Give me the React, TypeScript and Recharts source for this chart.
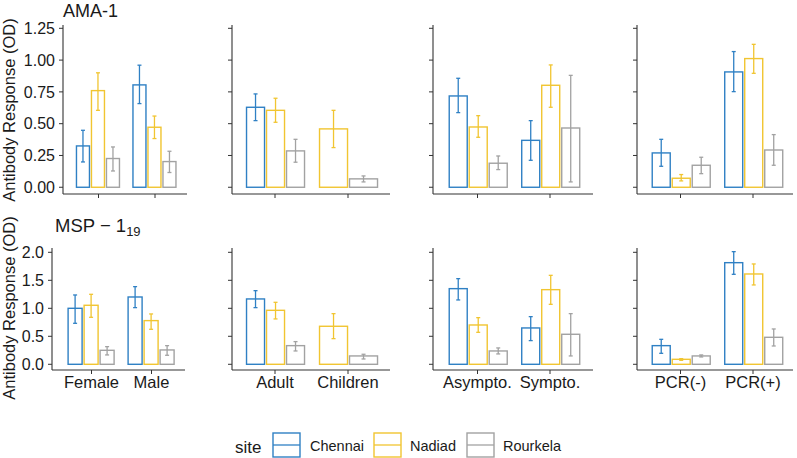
import { BarChart, Bar, XAxis, YAxis } from 'recharts'

const categories = ['Female', 'Male', 'Adult', 'Children', 'Asympto.', 'Sympto.', 'PCR(-)', 'PCR(+)']
const sites = ['Chennai', 'Nadiad', 'Rourkela']
const siteColors = ['#2F80C4', '#F1C531', '#A2A2A2']

// AMA-1 (top row): mean OD and error bar ends, per category
const amaChennai = [0.325, 0.805, 0.629, null, 0.718, 0.369, 0.27, 0.907]
const amaChennaiLo = [0.199, 0.658, 0.524, null, 0.587, 0.212, 0.165, 0.752]
const amaChennaiHi = [0.448, 0.96, 0.734, null, 0.857, 0.524, 0.377, 1.067]
const amaNadiad = [0.76, 0.472, 0.605, 0.459, 0.474, 0.802, 0.071, 1.012]
const amaNadiadLo = [0.605, 0.383, 0.511, 0.312, 0.393, 0.629, 0.05, 0.896]
const amaNadiadHi = [0.9, 0.56, 0.7, 0.605, 0.563, 0.962, 0.1, 1.124]
const amaRourkela = [0.226, 0.202, 0.286, 0.066, 0.189, 0.466, 0.173, 0.293]
const amaRourkelaLo = [0.128, 0.116, 0.197, 0.042, 0.139, 0.042, 0.107, 0.173]
const amaRourkelaHi = [0.317, 0.283, 0.377, 0.089, 0.246, 0.88, 0.236, 0.414]

// MSP-1 19 (bottom row)
const mspChennai = [1.0, 1.202, 1.167, null, 1.351, 0.649, 0.333, 1.815]
const mspChennaiLo = [0.732, 1.012, 1.012, null, 1.149, 0.423, 0.196, 1.607]
const mspChennaiHi = [1.238, 1.387, 1.315, null, 1.53, 0.851, 0.446, 2.012]
const mspNadiad = [1.054, 0.78, 0.964, 0.679, 0.702, 1.333, 0.089, 1.613]
const mspNadiadLo = [0.839, 0.625, 0.81, 0.458, 0.571, 1.071, 0.071, 1.417]
const mspNadiadHi = [1.25, 0.899, 1.107, 0.905, 0.833, 1.589, 0.101, 1.792]
const mspRourkela = [0.25, 0.256, 0.333, 0.149, 0.238, 0.536, 0.149, 0.482]
const mspRourkelaLo = [0.167, 0.161, 0.238, 0.095, 0.185, 0.149, 0.131, 0.327]
const mspRourkelaHi = [0.315, 0.333, 0.405, 0.179, 0.292, 0.905, 0.167, 0.631]

const amaTicks = [0, 0.25, 0.5, 0.75, 1, 1.25]
const mspTicks = [0, 0.5, 1, 1.5, 2]

const FONT = '"Liberation Sans", Arial, sans-serif'
const AXIS = '#333333'
const TEXT = '#1a1a1a'
const BAR_GAP = 2

type Row = Record<string, any>

function buildRows(means: (number | null)[][], lows: (number | null)[][], highs: (number | null)[][]) {
  return categories.map((cat, i) => {
    const row: Row = { cat }
    sites.forEach((_, s) => {
      row[`v${s}`] = means[s][i]
      row[`lo${s}`] = lows[s][i]
      row[`hi${s}`] = highs[s][i]
    })
    return row
  })
}

const amaRows = buildRows(
  [amaChennai, amaNadiad, amaRourkela],
  [amaChennaiLo, amaNadiadLo, amaRourkelaLo],
  [amaChennaiHi, amaNadiadHi, amaRourkelaHi],
)
const mspRows = buildRows(
  [mspChennai, mspNadiad, mspRourkela],
  [mspChennaiLo, mspNadiadLo, mspRourkelaLo],
  [mspChennaiHi, mspNadiadHi, mspRourkelaHi],
)

// bar outline + error bar; when Chennai is missing the other two bars widen (ggplot dodge)
function makeShape(site: number, color: string) {
  return (p: any) => {
    const { x, y, width, height, payload } = p
    const v = payload[`v${site}`]
    if (v == null || !height) return <g />
    let bx = x
    let bw = width
    if (payload.v0 == null) {
      const x0 = site === 1 ? x - width - BAR_GAP : x - 2 * width - 2 * BAR_GAP
      bw = (3 * width + BAR_GAP) / 2
      bx = site === 1 ? x0 : x0 + bw + BAR_GAP
    }
    const base = y + height
    const k = height / v
    const yLo = base - payload[`lo${site}`] * k
    const yHi = base - payload[`hi${site}`] * k
    const cx = bx + bw / 2
    return (
      <g>
        <rect x={bx} y={y} width={bw} height={height} fill="none" stroke={color} strokeWidth={1.4} />
        <line x1={cx} x2={cx} y1={yHi} y2={yLo} stroke={color} strokeWidth={1.3} />
        <line x1={cx - 2} x2={cx + 2} y1={yHi} y2={yHi} stroke={color} strokeWidth={1.3} />
        <line x1={cx - 2} x2={cx + 2} y1={yLo} y2={yLo} stroke={color} strokeWidth={1.3} />
      </g>
    )
  }
}

type Col = { L: number; R: number; c: [number, number] }

const topCols: Col[] = [
  { L: 63, R: 187, c: [98.5, 155] },
  { L: 232, R: 390, c: [275, 348] },
  { L: 433, R: 593, c: [477.5, 550] },
  { L: 637, R: 793, c: [680.5, 753] },
]
const bottomCols: Col[] = [
  { L: 52, R: 185, c: [91.5, 151.5] },
  { L: 232, R: 390, c: [275, 348] },
  { L: 433, R: 593, c: [477.5, 550] },
  { L: 637, R: 793, c: [680.5, 753] },
]

type RowCfg = {
  rows: Row[]
  cols: Col[]
  plotTop: number
  plotH: number
  domain: [number, number]
  ticks: number[]
  digits: number
  labels: boolean
}

const TOP_PAD = 12

function Panel({ cfg, idx }: { cfg: RowCfg; idx: number }) {
  const col = cfg.cols[idx]
  const data = cfg.rows.slice(idx * 2, idx * 2 + 2)
  const yW = idx === 0 ? col.L : 8
  const band = col.c[1] - col.c[0]
  const padLeft = col.c[0] - band / 2 - col.L
  const padRight = col.R - col.c[1] - band / 2
  const xH = cfg.labels ? 30 : 10
  const w = yW + col.R - col.L
  const h = TOP_PAD + cfg.plotH + xH
  return (
    <div style={{ position: 'absolute', left: col.L - yW, top: cfg.plotTop - TOP_PAD }}>
      <BarChart
        width={w}
        height={h}
        data={data}
        margin={{ top: TOP_PAD, right: 0, bottom: 0, left: 0 }}
        barGap={BAR_GAP}
        barCategoryGap="11%"
      >
        <XAxis
          dataKey="cat"
          height={xH}
          padding={{ left: padLeft, right: padRight }}
          tickSize={4}
          tickMargin={2}
          axisLine={{ stroke: AXIS, strokeWidth: 1.1 }}
          tickLine={{ stroke: AXIS }}
          tick={{ fill: TEXT, fontSize: 16.5, fontFamily: FONT }}
          tickFormatter={cfg.labels ? undefined : () => ''}
          interval={0}
        />
        <YAxis
          type="number"
          width={yW}
          domain={cfg.domain}
          ticks={cfg.ticks}
          allowDataOverflow
          tickSize={4}
          tickMargin={4}
          axisLine={{ stroke: AXIS, strokeWidth: 1.1 }}
          tickLine={{ stroke: AXIS }}
          tick={{ fill: TEXT, fontSize: 16, fontFamily: FONT }}
          tickFormatter={idx === 0 ? (v: number) => v.toFixed(cfg.digits) : () => ''}
        />
        {sites.map((s, si) => (
          <Bar
            key={s}
            dataKey={`v${si}`}
            name={s}
            stroke={siteColors[si]}
            fill="none"
            isAnimationActive={false}
            shape={makeShape(si, siteColors[si])}
          />
        ))}
      </BarChart>
    </div>
  )
}

const amaCfg: RowCfg = {
  rows: amaRows,
  cols: topCols,
  plotTop: 25,
  plotH: 169,
  domain: [-0.053, 1.276],
  ticks: amaTicks,
  digits: 2,
  labels: false,
}
const mspCfg: RowCfg = {
  rows: mspRows,
  cols: bottomCols,
  plotTop: 248,
  plotH: 122,
  domain: [-0.102, 2.077],
  ticks: mspTicks,
  digits: 1,
  labels: true,
}

const legendBoxes = [273, 374, 467]
const legendText = [310, 410, 503]

export default function App() {
  return (
    <div style={{ position: 'absolute', left: 0, top: 0, width: 797, height: 458, background: '#fff', fontFamily: FONT }}>
      {[0, 1, 2, 3].map((i) => (
        <Panel key={`a${i}`} cfg={amaCfg} idx={i} />
      ))}
      {[0, 1, 2, 3].map((i) => (
        <Panel key={`m${i}`} cfg={mspCfg} idx={i} />
      ))}
      <svg width={797} height={458} style={{ position: 'absolute', left: 0, top: 0, pointerEvents: 'none' }}>
        <text x={63} y={16.5} fontSize={18} fill={TEXT} fontFamily={FONT}>AMA-1</text>
        <text x={55} y={232} fontSize={18.5} fill={TEXT} fontFamily={FONT}>
          MSP − 1<tspan fontSize={13} dy={4}>19</tspan>
        </text>
        <text
          x={0}
          y={0}
          transform="translate(9,110) rotate(-90)"
          textAnchor="middle"
          dominantBaseline="central"
          fontSize={16.5}
          fill={TEXT}
          fontFamily={FONT}
        >
          Antibody Response (OD)
        </text>
        <text
          x={0}
          y={0}
          transform="translate(9,308) rotate(-90)"
          textAnchor="middle"
          dominantBaseline="central"
          fontSize={16.5}
          fill={TEXT}
          fontFamily={FONT}
        >
          Antibody Response (OD)
        </text>
        <text x={235} y={453} fontSize={17} fill={TEXT} fontFamily={FONT}>site</text>
        {sites.map((s, i) => (
          <g key={s}>
            <rect x={legendBoxes[i]} y={433} width={27} height={24} fill="none" stroke={siteColors[i]} strokeWidth={1.4} />
            <line x1={legendBoxes[i]} x2={legendBoxes[i] + 27} y1={445} y2={445} stroke={siteColors[i]} strokeWidth={1.3} />
            <text x={legendText[i]} y={451} fontSize={14.5} fill={TEXT} fontFamily={FONT}>{s}</text>
          </g>
        ))}
      </svg>
    </div>
  )
}
